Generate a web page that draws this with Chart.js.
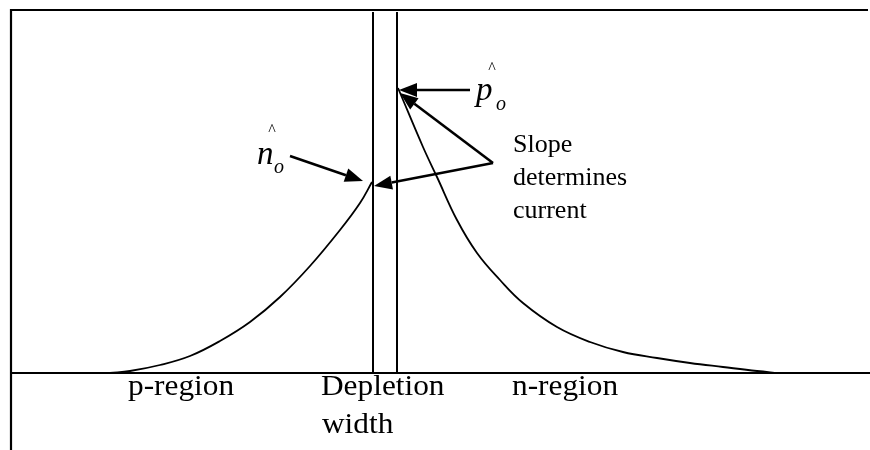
<!DOCTYPE html>
<html>
<head>
<meta charset="utf-8">
<script src="https://cdn.jsdelivr.net/npm/chart.js@4"></script>
<style>
  body { margin: 0; background: #fff; }
  #wrap { width: 870px; height: 450px; }
</style>
</head>
<body>
<div id="wrap"><canvas id="graph"></canvas></div>
<script>
// minority carrier profile, position / concentration in arbitrary units
const pSideX = [99, 119, 149, 179, 209, 239, 269, 299, 329, 349, 361];
const pSideY = [0, 2, 8, 17, 32, 51, 76, 107, 143, 170, 191];
const nSideX = [387, 412, 426, 446, 466, 489, 512, 546, 579, 612, 646, 679, 712, 746, 767];
const nSideY = [285, 226, 196, 153, 120, 93, 70, 46, 31, 21, 15, 10, 6, 2, 0];

// depletion region edges
const depletionEdges = [362, 386];
const xMax = 859;
const yMax = 363;

// annotation arrows: [tailX, tailY, tipX, tipY]
const arrows = [
    [279, 217, 352, 192],
    [459, 283, 388, 283],
    [482, 210, 389, 280],
    [482, 210, 363, 187]
];

// region labels: [text, x, y]
const regionLabels = [
    ['p-region', 117, -22],
    ['Depletion', 310, -22],
    ['width', 311, -60],
    ['n-region', 501, -22]
];
const slopeLabels = [
    ['Slope', 502, 221],
    ['determines', 502, 188],
    ['current', 502, 155]
];
// carrier symbols: [letter, x, y, subX, subY, hatX, hatY]
const symbols = [
    ['n', 246, 209, 263, 200, 261, 238],
    ['p', 465, 273, 485, 263, 481, 300]
];

function pts(xs, ys) {
    return xs.map((x, i) => ({x: x, y: ys[i]}));
}

const sketchPlugin = {
    id: 'sketch',
    afterDatasetsDraw(chart) {
        const ctx = chart.ctx;
        const sx = chart.scales.x, sy = chart.scales.y;
        const X = v => sx.getPixelForValue(v);
        const Y = v => sy.getPixelForValue(v);
        ctx.save();
        ctx.strokeStyle = '#000';
        ctx.fillStyle = '#000';

        // frame: top, left and baseline
        ctx.lineWidth = 2.2;
        ctx.beginPath();
        ctx.moveTo(X(0), chart.height);
        ctx.lineTo(X(0), Y(yMax));
        ctx.lineTo(X(xMax - 2), Y(yMax));
        ctx.stroke();
        ctx.lineWidth = 2;
        ctx.beginPath();
        ctx.moveTo(X(0), Y(0));
        ctx.lineTo(chart.width, Y(0));
        ctx.stroke();

        // arrows
        arrows.forEach(a => {
            const x1 = X(a[0]), y1 = Y(a[1]), x2 = X(a[2]), y2 = Y(a[3]);
            const ang = Math.atan2(y2 - y1, x2 - x1);
            const len = 18, half = 7;
            const bx = x2 - len * Math.cos(ang), by = y2 - len * Math.sin(ang);
            ctx.lineWidth = 2.6;
            ctx.beginPath();
            ctx.moveTo(x1, y1);
            ctx.lineTo(bx, by);
            ctx.stroke();
            ctx.beginPath();
            ctx.moveTo(x2, y2);
            ctx.lineTo(bx + half * Math.sin(ang), by - half * Math.cos(ang));
            ctx.lineTo(bx - half * Math.sin(ang), by + half * Math.cos(ang));
            ctx.closePath();
            ctx.fill();
        });

        // texts
        ctx.textAlign = 'left';
        ctx.textBaseline = 'alphabetic';
        ctx.font = '29px "Liberation Serif", "Times New Roman", serif';
        regionLabels.forEach(l => {
            ctx.save();
            ctx.translate(X(l[1]), Y(l[2]));
            ctx.scale(1.08, 1);
            ctx.fillText(l[0], 0, 0);
            ctx.restore();
        });
        ctx.font = '26px "Liberation Serif", "Times New Roman", serif';
        slopeLabels.forEach(l => ctx.fillText(l[0], X(l[1]), Y(l[2])));

        symbols.forEach(s => {
            ctx.textAlign = 'left';
            ctx.font = 'italic 33px "Liberation Serif", serif';
            ctx.fillText(s[0], X(s[1]), Y(s[2]));
            ctx.font = 'italic 20px "Liberation Serif", serif';
            ctx.fillText('o', X(s[3]), Y(s[4]));
            ctx.textAlign = 'center';
            ctx.font = '16px "Liberation Serif", serif';
            ctx.fillText('^', X(s[5]), Y(s[6]));
        });
        ctx.restore();
    }
};

const curveStyle = {
    borderColor: '#000',
    borderWidth: 1.8,
    pointRadius: 0,
    fill: false,
    tension: 0.4
};
const edgeStyle = {
    borderColor: '#000',
    borderWidth: 2,
    pointRadius: 0,
    fill: false
};

const config = {
    type: 'line',
    data: {
        datasets: [
            Object.assign({label: 'p-region', data: pts(pSideX, pSideY)}, curveStyle),
            Object.assign({label: 'n-region', data: pts(nSideX, nSideY)}, curveStyle),
            Object.assign({label: 'edge 1', data: pts([depletionEdges[0], depletionEdges[0]], [0, yMax - 2])}, edgeStyle),
            Object.assign({label: 'edge 2', data: pts([depletionEdges[1], depletionEdges[1]], [0, yMax - 2])}, edgeStyle)
        ]
    },
    options: {
        responsive: true,
        maintainAspectRatio: false,
        animation: false,
        layout: {padding: {left: 11, top: 10, right: 0, bottom: 77}},
        plugins: {legend: {display: false}, tooltip: {enabled: false}},
        scales: {
            x: {type: 'linear', min: 0, max: xMax, display: false},
            y: {type: 'linear', min: 0, max: yMax, display: false}
        }
    },
    plugins: [sketchPlugin]
};

new Chart(document.getElementById('graph'), config);
</script>
</body>
</html>
